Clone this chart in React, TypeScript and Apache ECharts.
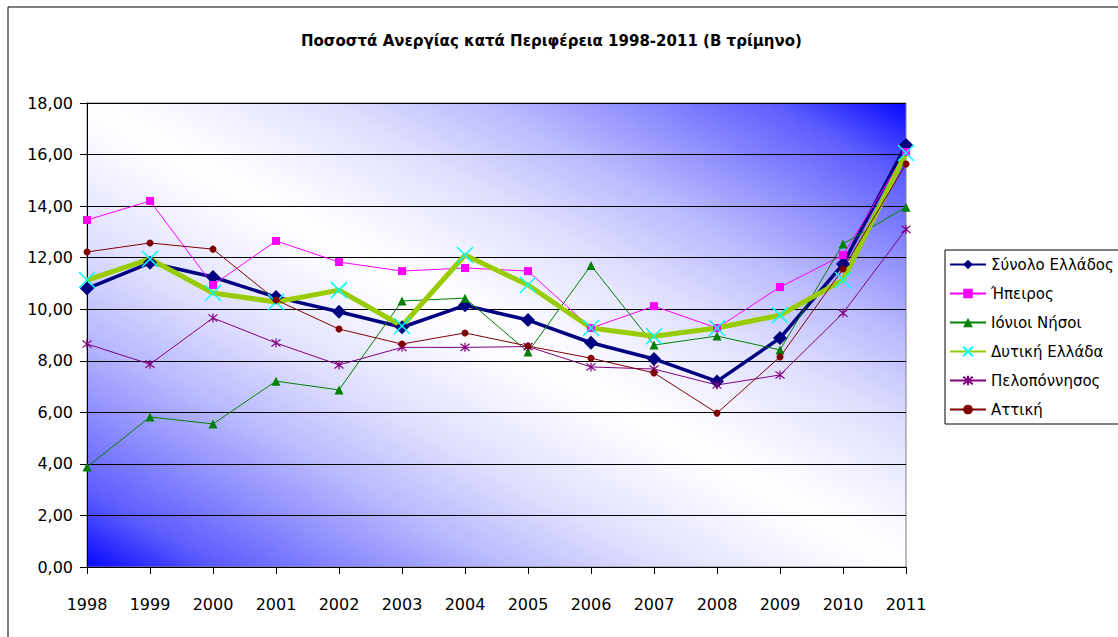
import React, { useEffect, useRef } from "react";
import * as echarts from "echarts";

const years = ["1998","1999","2000","2001","2002","2003","2004","2005","2006","2007","2008","2009","2010","2011"];
const synoloEllados = [10.8, 11.8, 11.25, 10.47, 9.9, 9.3, 10.15, 9.58, 8.7, 8.07, 7.2, 8.88, 11.75, 16.37];
const ipeiros = [13.46, 14.2, 10.94, 12.65, 11.83, 11.48, 11.6, 11.48, 9.27, 10.12, 9.27, 10.86, 12.1, 16.1];
const ionioiNisoi = [3.88, 5.82, 5.55, 7.21, 6.87, 10.32, 10.43, 8.34, 11.7, 8.61, 8.96, 8.42, 12.53, 13.96];
const dytikiEllada = [11.13, 11.95, 10.63, 10.28, 10.74, 9.35, 12.1, 10.94, 9.27, 8.95, 9.27, 9.77, 11.13, 16.06];
const peloponnisos = [8.65, 7.87, 9.66, 8.69, 7.84, 8.52, 8.52, 8.55, 7.76, 7.68, 7.06, 7.45, 9.85, 13.1];
const attiki = [12.22, 12.57, 12.33, 10.36, 9.23, 8.65, 9.08, 8.57, 8.1, 7.53, 5.97, 8.15, 11.56, 15.63];
const seriesNames = ["Σύνολο Ελλάδος", "Ήπειρος", "Ιόνιοι Νήσοι", "Δυτική Ελλάδα", "Πελοπόννησος", "Αττική"];
const titleText = "Ποσοστά Ανεργίας κατά Περιφέρεια 1998-2011 (Β τρίμηνο)";

const FONT = "DejaVu Sans";

export default function App() {
  const ref = useRef<HTMLDivElement>(null);
  useEffect(() => {
    document.body.style.margin = "0";
    const chart = echarts.init(ref.current!, null, { renderer: "svg" });
    // plot area 87..906 x 103..567 ; gradient perpendicular to plot diagonal
    const bg = new echarts.graphic.LinearGradient(297.7, 686.3, 695.3, -16.3, [
      { offset: 0, color: "#0808ff" },
      { offset: 0.08, color: "#5c5cff" },
      { offset: 0.17, color: "#8e8eff" },
      { offset: 0.25, color: "#b8b8ff" },
      { offset: 0.35, color: "#dedeff" },
      { offset: 0.45, color: "#f6f6ff" },
      { offset: 0.5, color: "#ffffff" },
      { offset: 0.55, color: "#f6f6ff" },
      { offset: 0.65, color: "#dedeff" },
      { offset: 0.75, color: "#b8b8ff" },
      { offset: 0.83, color: "#8e8eff" },
      { offset: 0.92, color: "#5c5cff" },
      { offset: 1, color: "#0808ff" },
    ], true);
    const xMark = "path://M0,0L10,10M10,0L0,10";
    const star = "path://M5,0L5,10M1,1L9,9M9,1L1,9";
    const option: any = {
      animation: false,
      textStyle: { fontFamily: FONT },
      title: {
        text: titleText,
        left: 296,
        top: 28,
        textStyle: { fontFamily: FONT, fontSize: 15, fontWeight: "bold", color: "#000" },
      },
      graphic: [
        {
          type: "rect",
          shape: { x: 8, y: 7, width: 1125, height: 650 },
          style: { fill: "none", stroke: "#000", lineWidth: 1 },
          silent: true,
        },
      ],
      legend: {
        orient: "vertical",
        left: 945,
        top: 250,
        itemWidth: 36,
        itemHeight: 12,
        itemGap: 14,
        padding: [7, 6, 7, 4],
        borderColor: "#000",
        borderWidth: 1,
        textStyle: { fontFamily: FONT, fontSize: 15, color: "#000" },
        data: seriesNames,
      },
      grid: {
        left: 87,
        right: 212,
        top: 103,
        bottom: 70,
        show: true,
        backgroundColor: bg,
        borderColor: "#808080",
        borderWidth: 1,
      },
      xAxis: {
        type: "category",
        data: years,
        boundaryGap: false,
        axisLine: { lineStyle: { color: "#000", width: 1 } },
        axisTick: { show: true, length: 7, lineStyle: { color: "#000" }, alignWithLabel: true },
        axisLabel: { fontFamily: FONT, fontSize: 16, color: "#000", margin: 29 },
        splitLine: { show: false },
      },
      yAxis: {
        type: "value",
        min: 0,
        max: 18,
        interval: 2,
        axisLine: { show: true, lineStyle: { color: "#000", width: 1 } },
        axisTick: { show: true, length: 7, lineStyle: { color: "#000" } },
        axisLabel: {
          fontFamily: FONT,
          fontSize: 16,
          color: "#000",
          margin: 14,
          formatter: (v: number) => v.toFixed(2).replace(".", ","),
        },
        splitLine: { show: true, lineStyle: { color: "#000", width: 1 } },
      },
      series: [
        {
          name: seriesNames[0],
          type: "line",
          data: synoloEllados,
          symbol: "diamond",
          symbolSize: 14,
          lineStyle: { color: "#000080", width: 3.5 },
          itemStyle: { color: "#000080" },
        },
        {
          name: seriesNames[1],
          type: "line",
          data: ipeiros,
          symbol: "rect",
          symbolSize: 8,
          lineStyle: { color: "#ff00ff", width: 1 },
          itemStyle: { color: "#ff00ff" },
        },
        {
          name: seriesNames[2],
          type: "line",
          data: ionioiNisoi,
          symbol: "triangle",
          symbolSize: 9,
          lineStyle: { color: "#008000", width: 1 },
          itemStyle: { color: "#008000" },
        },
        {
          name: seriesNames[3],
          type: "line",
          data: dytikiEllada,
          symbol: xMark,
          symbolSize: 16,
          lineStyle: { color: "#99cc00", width: 5 },
          itemStyle: { color: "#00ffff", borderColor: "#00ffff", borderWidth: 1.5 },
        },
        {
          name: seriesNames[4],
          type: "line",
          data: peloponnisos,
          symbol: star,
          symbolSize: 9,
          lineStyle: { color: "#800080", width: 1 },
          itemStyle: { color: "#800080", borderColor: "#800080", borderWidth: 1.2 },
        },
        {
          name: seriesNames[5],
          type: "line",
          data: attiki,
          symbol: "circle",
          symbolSize: 7,
          lineStyle: { color: "#800000", width: 1 },
          itemStyle: { color: "#800000" },
        },
      ],
    };
    chart.setOption(option);
    return () => chart.dispose();
  }, []);
  return (
    <div
      ref={ref}
      style={{ position: "absolute", left: 0, top: 0, width: 1118, height: 637, background: "#fff" }}
    />
  );
}
